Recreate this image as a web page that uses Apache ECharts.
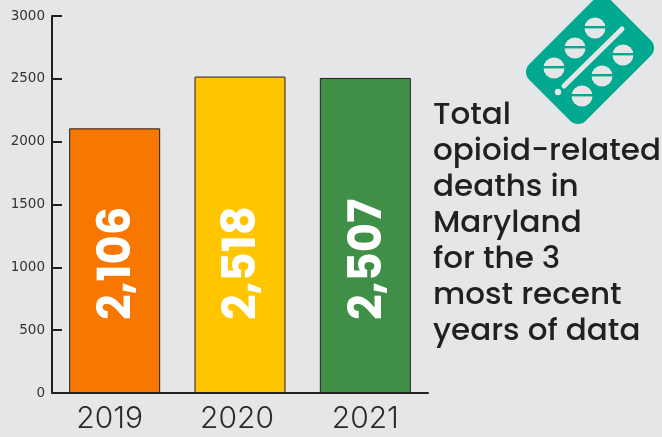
<!DOCTYPE html>
<html>
<head>
<meta charset="utf-8">
<style>html,body{margin:0;padding:0;background:#e5e6e8}#chart{width:662px;height:437px}</style>
<script src="https://cdn.jsdelivr.net/npm/echarts@6/dist/echarts.min.js"></script>
</head>
<body>
<div id="chart"></div>
<script>
const years = ['2019', '2020', '2021'];
const deaths = [2106, 2518, 2507];
const barColors = ['#f77700', '#ffc600', '#3f8f47'];
const headingLines = ['Total', 'opioid-related', 'deaths in', 'Maryland', 'for the 3', 'most recent', 'years of data'];

const ink = '#231f20';
const packGreen = '#00a98f';
const paper = '#e5e6e8';

// One round tablet with the score line across it
function tablet(cx, cy) {
  return [
    { type: 'circle', shape: { cx, cy, r: 10.5 }, style: { fill: paper } },
    { type: 'rect', shape: { x: cx - 11, y: cy - 2, width: 22, height: 2.4 }, style: { fill: packGreen } }
  ];
}

const tabletCentres = [[595, 28], [575, 48], [554, 68], [623, 55], [602, 76], [582, 96]];

const packIcon = [
  { type: 'rect', x: 590, y: 60, originX: 0, originY: 0, rotation: Math.PI / 4,
    shape: { x: -57, y: -40, width: 114, height: 80, r: 11 }, style: { fill: packGreen } },
  { type: 'line', shape: { x1: 564, y1: 86, x2: 622, y2: 29 },
    style: { stroke: paper, lineWidth: 5, lineCap: 'round' } },
  { type: 'circle', shape: { cx: 558, cy: 92, r: 3.2 }, style: { fill: paper } }
].concat(tabletCentres.flatMap(c => tablet(c[0], c[1])));

const heading = headingLines.map((line, i) => ({
  type: 'text', x: 433, y: 116 + i * 36,
  style: { text: line, fill: ink, font: '500 31px Poppins, Inter, "Noto Sans", sans-serif',
           textVerticalAlign: 'middle' }
}));

// The year captions sit a little left of their bars
const yearLabelPadding = [[0, 10, 0, 0], [0, 6, 0, 0], [0, 0, 0, 0]];

const chart = echarts.init(document.getElementById('chart'), null, { renderer: 'canvas' });
chart.setOption({
  animation: false,
  backgroundColor: paper,
  grid: { left: 52, right: 234, top: 16, bottom: 44 },
  xAxis: {
    type: 'category',
    data: years.map((y, i) => ({ value: y, textStyle: { padding: yearLabelPadding[i] } })),
    axisLine: { lineStyle: { color: ink, width: 2 } },
    axisTick: { inside: true, length: 10, lineStyle: { color: ink, width: 2 } },
    axisLabel: { color: '#2b2b2b', fontFamily: 'Inter', fontSize: 30, fontWeight: 300, margin: 11 }
  },
  yAxis: {
    type: 'value', min: 0, max: 3000, interval: 500,
    splitLine: { show: false },
    axisLine: { show: true, onZero: false, lineStyle: { color: ink, width: 2 } },
    axisTick: { show: true, inside: true, length: 10, lineStyle: { color: ink, width: 2 } },
    axisLabel: { color: '#333', fontFamily: 'DejaVu Sans', fontSize: 13.5, margin: 7, formatter: v => String(v) }
  },
  series: [{
    type: 'bar', barWidth: 91,
    data: deaths.map((v, i) => ({ value: v, itemStyle: { color: barColors[i] } })),
    itemStyle: { borderColor: ink, borderWidth: 1 },
    label: {
      show: true, position: 'insideBottom', distance: 73, rotate: 90, offset: [0, 4],
      align: 'left', verticalAlign: 'middle',
      color: '#fff', fontFamily: 'Poppins, Inter', fontWeight: 700, fontSize: 45,
      formatter: p => p.value.toLocaleString('en-US')
    }
  }],
  graphic: packIcon.concat(heading)
});
</script>
</body>
</html>
